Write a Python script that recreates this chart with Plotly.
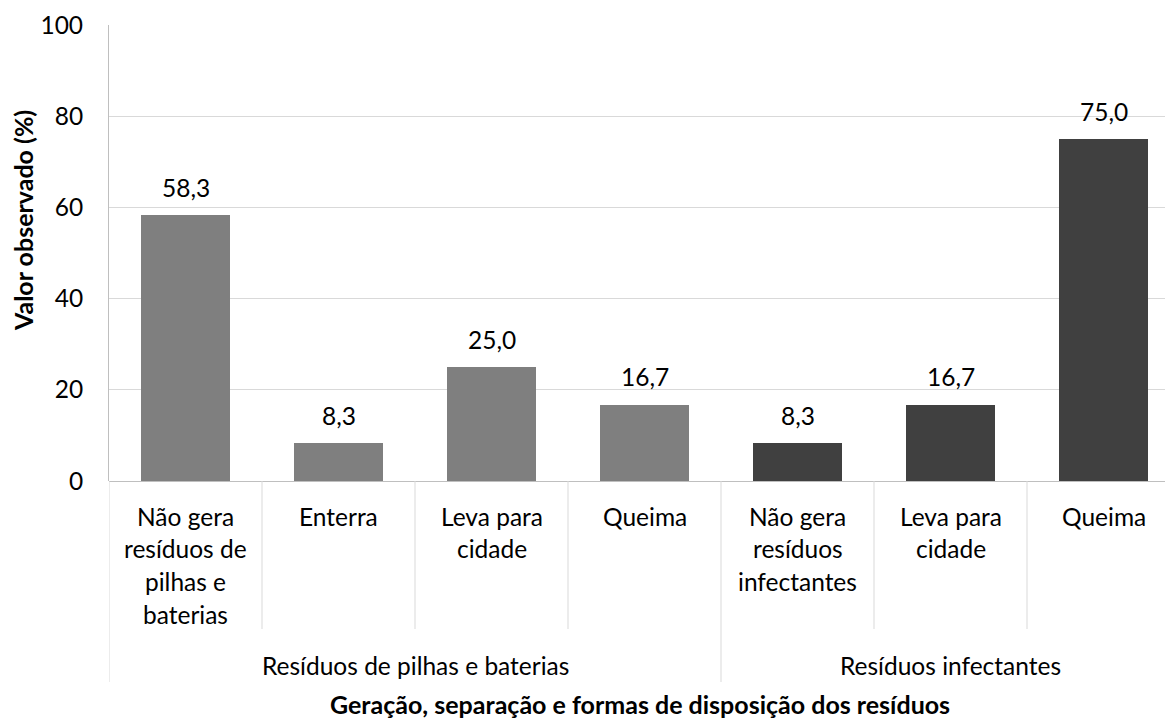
import plotly.graph_objects as go

# Categories (one label per bar; "\n" marks line breaks) and their groups
categories = [
    "Não gera\nresíduos de\npilhas e\nbaterias",
    "Enterra",
    "Leva para\ncidade",
    "Queima",
    "Não gera\nresíduos\ninfectantes",
    "Leva para\ncidade",
    "Queima",
]
groups = ["Resíduos de pilhas e baterias", "Resíduos infectantes"]
group_sizes = [4, 3]
values = [58.3, 8.3, 25.0, 16.7, 8.3, 16.7, 75.0]
group_colors = ["#7f7f7f", "#404040"]
y_ticks = [0, 20, 40, 60, 80, 100]

FONT = "Lato"
FS = 24.5
FS_TITLE = 25
W, H = 1165, 722
M_TOP, M_BOTTOM, M_LEFT = 25, 241, 109
PLOT_H = H - M_TOP - M_BOTTOM
PLOT_W = W - M_LEFT


def py(p):
    """Pixel row (from top of page) -> paper y coordinate."""
    return (H - M_BOTTOM - p) / PLOT_H


def px(p):
    """Pixel column (from left of page) -> paper x coordinate."""
    return (p - M_LEFT) / PLOT_W


xs = list(range(len(categories)))
colors = []
for g, n in enumerate(group_sizes):
    colors += [group_colors[g]] * n

fig = go.Figure(
    go.Bar(
        x=xs,
        y=values,
        width=0.588,
        marker=dict(color=colors, line=dict(width=0)),
        hoverinfo="skip",
    )
)

annotations = []
# value labels above bars
for x, v in zip(xs, values):
    annotations.append(dict(
        x=x, y=v, xref="x", yref="y", text=f"{v:.1f}".replace(".", ","),
        showarrow=False, yanchor="middle", yshift=28,
        font=dict(family=FONT, size=FS, color="#000000"),
    ))

# category labels, line by line
line_step = 32.7
for x, label in zip(xs, categories):
    for i, line in enumerate(label.split("\n")):
        annotations.append(dict(
            x=x, y=py(516 + i * line_step), xref="x", yref="paper", text=line,
            showarrow=False, yanchor="middle", xanchor="center",
            font=dict(family=FONT, size=FS, color="#000000"),
        ))

# group labels and separators
shapes = []
sep_color = "#d9d9d9"
start = 0
for g, n in enumerate(group_sizes):
    left, right = start - 0.5, start + n - 0.5
    annotations.append(dict(
        x=(left + right) / 2, y=py(665), xref="x", yref="paper", text=groups[g],
        showarrow=False, yanchor="middle", xanchor="center",
        font=dict(family=FONT, size=FS, color="#000000"),
    ))
    shapes.append(dict(type="line", xref="x", yref="paper", x0=left, x1=left,
                       y0=0, y1=py(682), line=dict(color=sep_color, width=1)))
    for k in range(1, n):
        xk = left + k
        shapes.append(dict(type="line", xref="x", yref="paper", x0=xk, x1=xk,
                           y0=0, y1=py(629), line=dict(color=sep_color, width=1)))
    start += n
shapes.append(dict(type="line", xref="x", yref="paper", x0=start - 0.5, x1=start - 0.5,
                   y0=0, y1=py(682), line=dict(color=sep_color, width=1)))

# axis titles
annotations.append(dict(
    x=px(640), y=py(721), xref="paper", yref="paper",
    text="<b>Geração, separação e formas de disposição dos resíduos</b>",
    showarrow=False, yanchor="bottom", xanchor="center",
    font=dict(family=FONT, size=FS_TITLE, color="#000000"),
))
annotations.append(dict(
    x=px(23), y=py(221), xref="paper", yref="paper",
    text="<b>Valor observado (%)</b>", textangle=-90,
    showarrow=False, yanchor="middle", xanchor="center",
    font=dict(family=FONT, size=FS_TITLE, color="#000000"),
))

fig.update_layout(
    width=W, height=H,
    margin=dict(l=M_LEFT, r=0, t=M_TOP, b=M_BOTTOM, pad=0),
    plot_bgcolor="white", paper_bgcolor="white",
    showlegend=False,
    annotations=annotations,
    shapes=shapes,
    bargap=0,
)
fig.update_xaxes(
    range=[-0.5, -0.5 + PLOT_W / 153.0],
    showticklabels=False, showgrid=False, zeroline=False,
    showline=False, ticks="",
)
fig.update_yaxes(
    range=[0, 100], tickvals=y_ticks, ticktext=[str(t) for t in y_ticks],
    showgrid=True, gridcolor="#d9d9d9", gridwidth=1,
    zeroline=True, zerolinecolor="#bfbfbf", zerolinewidth=1,
    showline=True, linecolor="#bfbfbf", linewidth=1,
    ticks="", ticklabelstandoff=20,
    tickfont=dict(family=FONT, size=FS, color="#000000"),
)

fig.write_html("out.html")
